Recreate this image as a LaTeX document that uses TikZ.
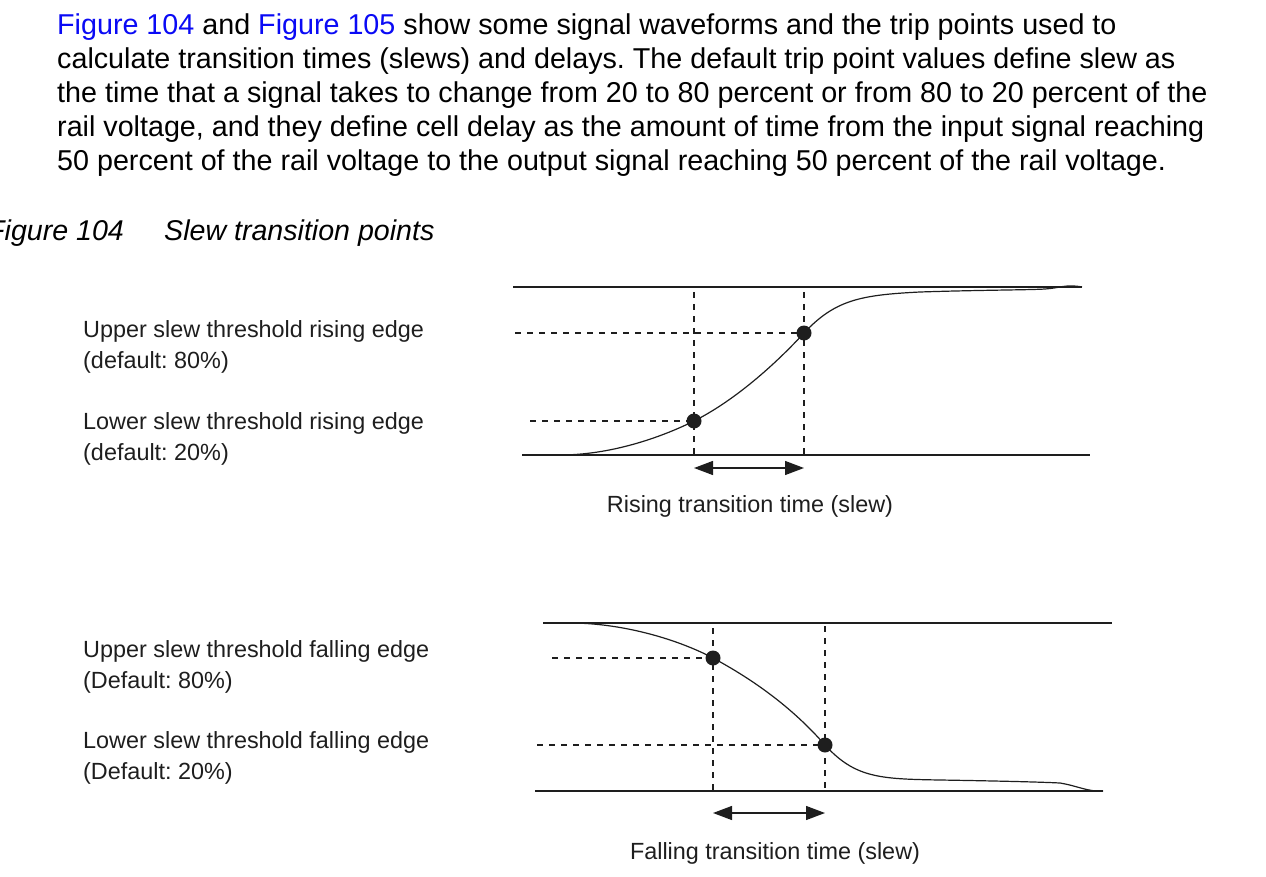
\documentclass[tikz,border=0pt]{standalone}
\usepackage{fontspec}
\setmainfont{Liberation Sans}
\usepackage{xcolor}
\usepackage{tikz}
\usetikzlibrary{arrows.meta}

\definecolor{linkblue}{RGB}{10,10,245}
\definecolor{inkgray}{RGB}{30,30,30}

\frenchspacing
\tikzset{
    rail/.style={line width=1.4pt, inkgray},
    wave/.style={line width=1.2pt, inkgray},
    dashline/.style={line width=1.2pt, inkgray, dash pattern=on 6pt off 6pt},
    slewarrow/.style={line width=1.3pt, inkgray, {Triangle[length=19pt,width=14pt]}-{Triangle[length=19pt,width=14pt]}},
    lbl/.style={font=\fontsize{23.4}{31}\selectfont, text=inkgray, inner sep=0pt, align=left},
}

\begin{document}
\begin{tikzpicture}[x=1pt, y=-1pt]
    \useasboundingbox (0,0) rectangle (1266,877);

    % intro text
    \node[anchor=base west, inner sep=0pt, align=left, font=\fontsize{28.7}{34}\selectfont] (para) at (57,171)
        {\textcolor{linkblue}{Figure 104} and \textcolor{linkblue}{Figure 105} show some signal waveforms and the trip points used to\\
         calculate transition times (slews) and delays. The default trip point values define slew as\\
         the time that a signal takes to change from 20 to 80 percent or from 80 to 20 percent of the\\
         rail voltage, and they define cell delay as the amount of time from the input signal reaching\\
         50 percent of the rail voltage to the output signal reaching 50 percent of the rail voltage.};
    \node[anchor=base west, inner sep=0pt, font=\fontsize{28.6}{34}\selectfont\itshape] (fignum) at (-13,241) {Figure 104};
    \node[anchor=base west, inner sep=0pt, font=\fontsize{28.6}{34}\selectfont\itshape] (figtitle) at (164,241) {Slew transition points};

    % rising edge
    \coordinate (rtopL) at (513,287);
    \coordinate (rtopR) at (1082,287);
    \coordinate (rbotL) at (522,455);
    \coordinate (rbotR) at (1090,455);
    \coordinate (rlo) at (694,421);
    \coordinate (rhi) at (804,333);
    \coordinate (rloL) at (530,421);
    \coordinate (rhiL) at (515,333);
    \draw[rail] (rtopL) -- (rtopR);
    \draw[rail] (rbotL) -- (rbotR);
    \draw[dashline] (rhiL) -- (rhi);
    \draw[dashline] (rloL) -- (rlo);
    \draw[dashline] ([yshift=-5pt]rlo |- rtopL) -- (rlo |- rbotL);
    \draw[dashline] ([yshift=-5pt]rhi |- rtopL) -- (rhi |- rbotL);
    \draw[wave] (560,455) .. controls (610,455) and (660,438) .. (rlo)
        .. controls (730,403) and (770,370) .. (rhi)
        .. controls (835,300) and (860,295) .. (920,292)
        .. controls (980,290) and (1030,290) .. (1045,289)
        .. controls (1060,288) and (1066,284) .. (1082,287);
    \fill[inkgray] (rlo) circle (7.5pt);
    \fill[inkgray] (rhi) circle (7.5pt);
    \draw[slewarrow] ([yshift=-13pt]rlo |- rbotL) -- ([yshift=-13pt]rhi |- rbotL);
    \node[lbl] (rslew) at (750,506) {Rising transition time (slew)};
    \node[lbl, anchor=west] (rupper) at (83,347) {Upper slew threshold rising edge\\(default: 80\%)};
    \node[lbl, anchor=west] (rlower) at (83,439) {Lower slew threshold rising edge\\(default: 20\%)};

    % falling edge
    \coordinate (ftopL) at (543,623);
    \coordinate (ftopR) at (1112,623);
    \coordinate (fbotL) at (535,791);
    \coordinate (fbotR) at (1103,791);
    \coordinate (fhi) at (713,658);
    \coordinate (flo) at (825,745);
    \coordinate (fhiL) at (552,658);
    \coordinate (floL) at (537,745);
    \draw[rail] (ftopL) -- (ftopR);
    \draw[rail] (fbotL) -- (fbotR);
    \draw[dashline] (fhiL) -- (fhi);
    \draw[dashline] (floL) -- (flo);
    \draw[dashline] ([yshift=-5pt]fhi |- ftopL) -- (fhi |- fbotL);
    \draw[dashline] ([yshift=-3pt]flo |- ftopL) -- (flo |- fbotL);
    \draw[wave] (570,623) .. controls (620,623) and (675,638) .. (fhi)
        .. controls (750,678) and (790,705) .. (flo)
        .. controls (855,778) and (880,779) .. (940,780)
        .. controls (1000,781) and (1040,782) .. (1060,783)
        .. controls (1078,786) and (1088,792) .. (1103,791);
    \fill[inkgray] (fhi) circle (7.5pt);
    \fill[inkgray] (flo) circle (7.5pt);
    \draw[slewarrow] ([yshift=-22pt]fhi |- fbotL) -- ([yshift=-22pt]flo |- fbotL);
    \node[lbl] (fslew) at (775,853) {Falling transition time (slew)};
    \node[lbl, anchor=west] (fupper) at (83,667) {Upper slew threshold falling edge\\(Default: 80\%)};
    \node[lbl, anchor=west] (flower) at (83,758) {Lower slew threshold falling edge\\(Default: 20\%)};
\end{tikzpicture}
\end{document}
